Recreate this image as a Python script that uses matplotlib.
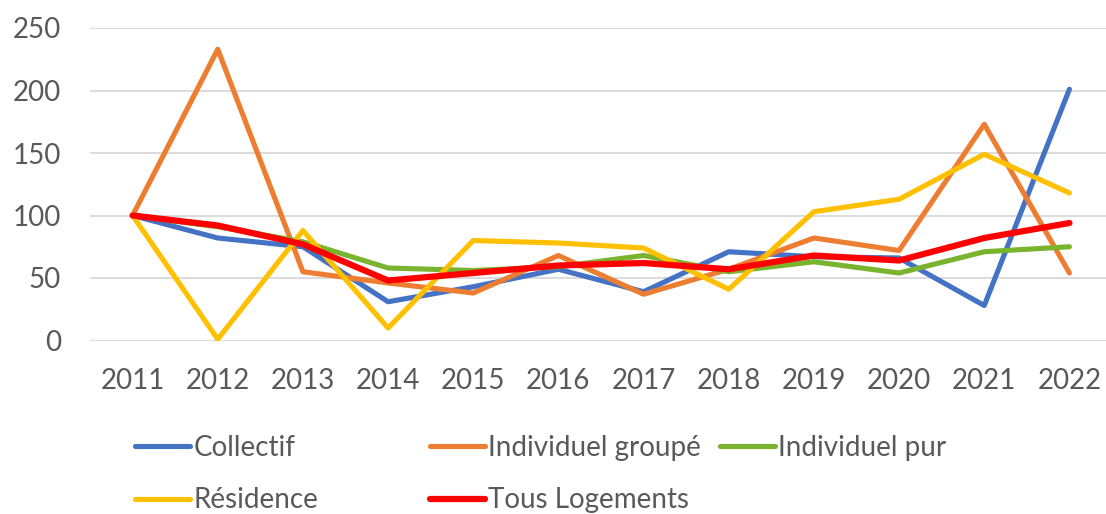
import matplotlib
matplotlib.use("Agg")
import matplotlib.pyplot as plt

plt.rcParams['font.family'] = ['Lato', 'DejaVu Sans']

years = ["2011", "2012", "2013", "2014", "2015", "2016",
         "2017", "2018", "2019", "2020", "2021", "2022"]

collectif = [100, 82, 75, 31, 43, 57, 39, 71, 67, 66, 28, 201]
individuel_groupe = [100, 233, 55, 46, 38, 68, 37, 57, 82, 72, 173, 54]
individuel_pur = [100, 91, 79, 58, 56, 59, 68, 55, 63, 54, 71, 75]
residence = [100, 1, 88, 10, 80, 78, 74, 41, 103, 113, 149, 118]
tous_logements = [100, 92, 77, 48, 54, 60, 62, 57, 68, 64, 82, 94]

series = [
    ("Collectif", collectif, "#4472C4", 3.7),
    ("Individuel groupé", individuel_groupe, "#ED7D31", 3.7),
    ("Individuel pur", individuel_pur, "#7AB32E", 3.7),
    ("Résidence", residence, "#FFC000", 3.7),
    ("Tous Logements", tous_logements, "#FF0000", 4.5),
]

grey = "#595959"
fs = 20

fig = plt.figure(figsize=(11.06, 5.14), dpi=100)
ax = fig.add_axes([90 / 1106, 1 - 340.5 / 514, 1022 / 1106, 312.5 / 514])

x = list(range(len(years)))
lines = {}
for name, vals, col, lw in series:
    ln, = ax.plot(x, vals, color=col, lw=lw, label=name,
                  solid_capstyle="round", solid_joinstyle="round")
    lines[name] = ln

ax.set_xlim(-0.5, len(years) - 0.5)
ax.set_ylim(0, 250)
ax.set_yticks(range(0, 251, 50))
ax.set_xticks(x)
ax.set_xticklabels(years)
ax.yaxis.grid(True, color="#D9D9D9", lw=1.3)
ax.set_axisbelow(True)
for s in ax.spines.values():
    s.set_visible(False)
ax.tick_params(axis="both", length=0, labelsize=fs, colors=grey)
ax.tick_params(axis="y", pad=21)
ax.tick_params(axis="x", pad=20)

# legend laid out as three equal-width columns
columns = [["Collectif", "Résidence"],
           ["Individuel groupé", "Tous Logements"],
           ["Individuel pur"]]
col_x = [135, 430, 720]
for names, cx in zip(columns, col_x):
    leg = fig.legend([lines[n] for n in names], names,
                     loc="upper left", bbox_to_anchor=(cx / 1106, 1 - 435 / 514),
                     frameon=False, fontsize=fs, handlelength=1.98,
                     handletextpad=0.12, borderpad=0, borderaxespad=0,
                     labelspacing=0.95)
    for t in leg.get_texts():
        t.set_color(grey)

fig.savefig("out.png", dpi=100)
